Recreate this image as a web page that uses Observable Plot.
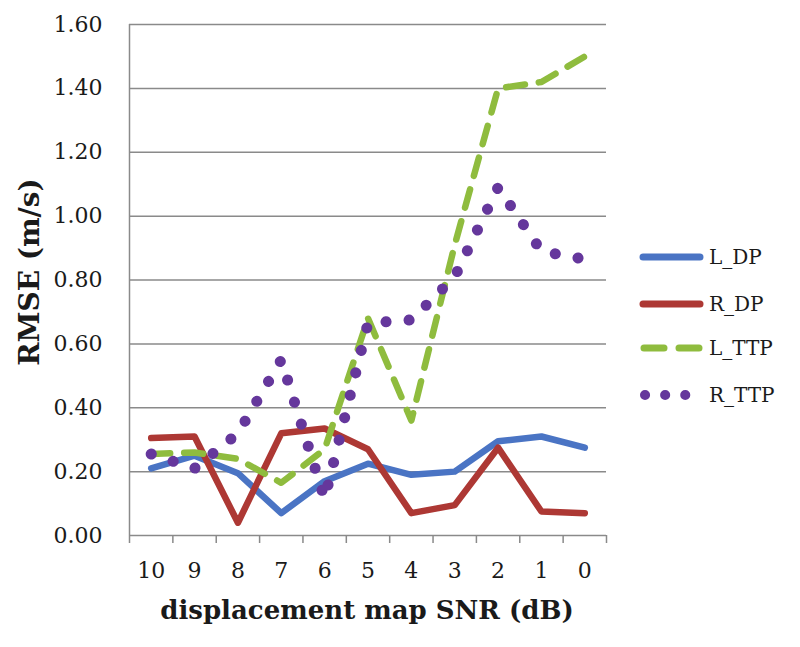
<!DOCTYPE html>
<html><head><meta charset="utf-8">
<script src="https://cdn.jsdelivr.net/npm/d3@7"></script>
<script src="https://cdn.jsdelivr.net/npm/@observablehq/plot@0.6"></script>
<style>
body{margin:0;background:#fff;}
#wrap{position:relative;width:800px;height:647px;font-family:"DejaVu Serif",serif;color:#1a1a1a;overflow:hidden;}
.ytitle{position:absolute;left:30px;top:272px;transform:translate(-50%,-50%) rotate(-90deg);font-weight:bold;font-size:28px;white-space:nowrap;line-height:1;}
.xtitle{position:absolute;left:367px;top:597px;transform:translateX(-50%);font-weight:bold;font-size:26px;white-space:nowrap;line-height:1;}
.leg{position:absolute;left:638px;display:flex;align-items:center;height:24px;font-size:20px;}
.leg svg{display:block;margin-right:5px;}
</style>
</head><body>
<div id="wrap"></div>
<script>
const snr = [10, 9, 8, 7, 6, 5, 4, 3, 2, 1, 0];
const L_DP  = [0.21, 0.25, 0.195, 0.07, 0.17, 0.225, 0.19, 0.20, 0.295, 0.31, 0.275];
const R_DP  = [0.305, 0.31, 0.04, 0.32, 0.335, 0.27, 0.07, 0.095, 0.275, 0.075, 0.07];
const L_TTP = [0.255, 0.26, 0.24, 0.165, 0.27, 0.68, 0.36, 0.91, 1.40, 1.42, 1.50];
const R_TTP = [0.255, 0.21, 0.32, 0.55, 0.115, 0.665, 0.675, 0.81, 1.09, 0.89, 0.865];
const seriesNames = ["L_DP", "R_DP", "L_TTP", "R_TTP"];
const seriesValues = [L_DP, R_DP, L_TTP, R_TTP];
const yTicks = [0, 0.2, 0.4, 0.6, 0.8, 1.0, 1.2, 1.4, 1.6];
const xTickLabels = ["10", "9", "8", "7", "6", "5", "4", "3", "2", "1", "0"];
const yLabel = "RMSE (m/s)";
const xLabel = "displacement map SNR (dB)";

const styles = {
  L_DP:  {stroke: "#4a74c4", strokeWidth: 6.5, strokeDasharray: null},
  R_DP:  {stroke: "#ad3834", strokeWidth: 6.5, strokeDasharray: null},
  L_TTP: {stroke: "#8fbc3e", strokeWidth: 6.5, strokeDasharray: "19 14"},
  R_TTP: {stroke: "#65379c", strokeWidth: 11, strokeDasharray: "0.1 23"}
};

const series = seriesNames.map((name, k) => ({
  name,
  data: snr.map((s, i) => ({snr: s, v: seriesValues[k][i]}))
}));

const xDomain = [d3.max(snr) + 0.5, d3.min(snr) - 0.5];
const edges = snr.map(s => s + 0.5).concat([d3.min(snr) - 0.5]);
const grey = "#8a8a8a";

const chart = Plot.plot({
  width: 800, height: 647,
  marginLeft: 129, marginRight: 194, marginTop: 24, marginBottom: 112,
  style: {fontFamily: "DejaVu Serif", background: "white", color: "#1a1a1a", overflow: "visible"},
  x: {type: "linear", domain: xDomain},
  y: {domain: [0, 1.6]},
  marks: [
    Plot.gridY(yTicks.slice(1), {stroke: grey, strokeOpacity: 1, strokeWidth: 1.5}),
    Plot.ruleX([xDomain[0]], {stroke: grey, strokeWidth: 1.5}),
    Plot.ruleY([0], {stroke: grey, strokeWidth: 1.5}),
    Plot.axisY(yTicks, {tickSize: 0, tickPadding: 27, tickFormat: d => d.toFixed(2), fontSize: 22, label: null}),
    Plot.axisX(edges, {tickSize: 8, tickFormat: () => "", label: null, stroke: grey, strokeWidth: 1.5}),
    Plot.axisX(snr, {tickSize: 0, tickPadding: 27, tickFormat: d => xTickLabels[snr.indexOf(d)], fontSize: 22, label: null}),
    ...series.map(s => Plot.line(s.data, {
      x: "snr", y: "v",
      stroke: styles[s.name].stroke,
      strokeWidth: styles[s.name].strokeWidth,
      strokeDasharray: styles[s.name].strokeDasharray,
      strokeLinecap: "round", strokeLinejoin: "round"
    }))
  ]
});

const wrap = document.getElementById("wrap");
wrap.appendChild(chart);

const yt = document.createElement("div");
yt.className = "ytitle"; yt.textContent = yLabel; wrap.appendChild(yt);
const xt = document.createElement("div");
xt.className = "xtitle"; xt.textContent = xLabel; wrap.appendChild(xt);

const legTops = [245, 292, 336, 383];
seriesNames.forEach((name, k) => {
  const st = styles[name];
  const row = document.createElement("div");
  row.className = "leg";
  row.style.top = legTops[k] + "px";
  let sw;
  if (name === "R_TTP") {
    sw = `<svg width="66" height="24"><line x1="7" x2="62" y1="12" y2="12" stroke="${st.stroke}" stroke-width="10" stroke-linecap="round" stroke-dasharray="0.1 20"/></svg>`;
  } else if (name === "L_TTP") {
    sw = `<svg width="66" height="24"><line x1="6" x2="62" y1="12" y2="12" stroke="${st.stroke}" stroke-width="7" stroke-linecap="round" stroke-dasharray="20 15"/></svg>`;
  } else {
    sw = `<svg width="66" height="24"><line x1="5" x2="62" y1="12" y2="12" stroke="${st.stroke}" stroke-width="7" stroke-linecap="round"/></svg>`;
  }
  row.innerHTML = sw + `<span>${name}</span>`;
  wrap.appendChild(row);
});
</script>
</body></html>
